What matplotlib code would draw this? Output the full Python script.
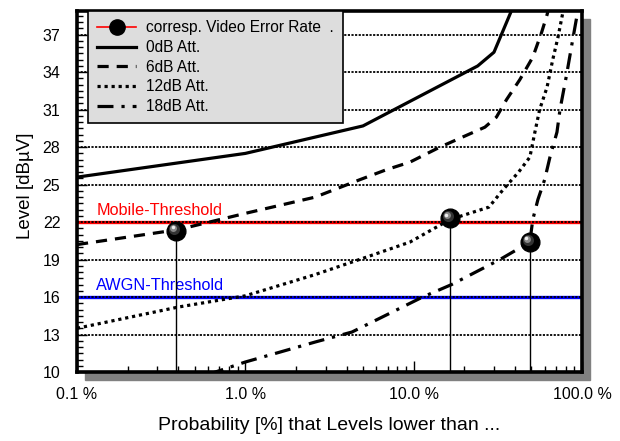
import matplotlib
matplotlib.use("Agg")
import matplotlib.pyplot as plt
import matplotlib.transforms as mtransforms
from matplotlib.lines import Line2D
from matplotlib.patches import Rectangle
from matplotlib.ticker import FixedLocator, LogLocator, MultipleLocator, NullFormatter

plt.rcParams["font.family"] = ["Liberation Sans", "DejaVu Sans"]

# ── Data (probability in %, level in dBuV) ────────────────────────────────────
att0_x = [0.1, 1.0, 5.0, 24, 30, 40]
att0_y = [25.6, 27.5, 29.7, 34.5, 35.6, 39.6]

att6_x = [0.1, 0.4, 1.0, 2.6, 4.8, 6.9, 9.5, 14.3, 26.5, 31, 35.6, 42.7, 51, 57.6, 62, 66]
att6_y = [20.2, 21.4, 22.7, 24.0, 25.4, 26.2, 26.8, 28.0, 29.6, 30.4, 31.8, 33.4, 35.2, 37.2, 38.6, 40.0]

att12_x = [0.1, 0.4, 1.0, 2.6, 5.25, 9.5, 16.4, 28, 34, 42, 49, 52.5, 56, 62, 67, 72, 77, 82]
att12_y = [13.5, 15.2, 16.1, 17.8, 19.2, 20.4, 22.2, 23.2, 24.6, 26.0, 27.2, 29.2, 31.0, 32.8, 35.0, 36.8, 38.8, 40.5]

att18_x = [0.6, 1.0, 2.6, 4.3, 11.3, 16.8, 32.5, 49, 51, 54.7, 60, 64.5, 71, 74, 81, 87, 93, 100]
att18_y = [9.8, 10.8, 12.4, 13.2, 16.0, 17.0, 19.0, 20.4, 22.2, 23.8, 25.4, 27.2, 29.2, 31.0, 33.8, 36.2, 38.4, 40.0]

marker_x = [0.39, 16.4, 49]
marker_y = [21.3, 22.3, 20.4]

mobile_threshold = 22
awgn_threshold = 16
y_ticks = [10, 13, 16, 19, 22, 25, 28, 31, 34, 37]
grid_levels = [13, 16, 19, 22, 25, 28, 31, 34, 37]
x_ticks = [0.1, 1, 10, 100]
x_ticklabels = ["0.1 %", "1.0 %", "10.0 %", "100.0 %"]

# ── Figure ────────────────────────────────────────────────────────────────────
W, H = 620, 441
fig = plt.figure(figsize=(W / 100, H / 100), dpi=100)
left, right, top, bottom = 77, 582, 11, 372
ax = fig.add_axes([left / W, 1 - bottom / H, (right - left) / W, (bottom - top) / H])

# gray drop shadow behind the plot area
off = 8
fig.patches.append(Rectangle(((left + off) / W, 1 - (bottom + off) / H),
                             (right - left) / W, (bottom - top) / H,
                             transform=fig.transFigure, color="#808080", zorder=-1))

ax.set_xscale("log")
ax.set_xlim(0.1, 100)
ax.set_ylim(10, 38.9)

# thresholds
ax.axhline(mobile_threshold, color="red", lw=2.4, zorder=2)
ax.axhline(awgn_threshold, color="blue", lw=2.4, zorder=2)
ax.text(0.1315, mobile_threshold + 0.3, "Mobile-Threshold", color="red", fontsize=11.7, va="bottom")
ax.text(0.13, awgn_threshold + 0.3, "AWGN-Threshold", color="blue", fontsize=11.7, va="bottom")

# dotted horizontal grid
for g in grid_levels:
    ax.axhline(g, color="black", lw=1.3, linestyle=(0, (1.2, 0.8)), zorder=2.5)

# curves
lw = 2.3
ax.plot(att0_x, att0_y, color="black", lw=lw, linestyle="-", zorder=3)
ax.plot(att6_x, att6_y, color="black", lw=lw, linestyle=(0, (3.5, 2.5)), zorder=3)
ax.plot(att12_x, att12_y, color="black", lw=lw, linestyle=(0, (1, 1.2)), zorder=3)
ax.plot(att18_x, att18_y, color="black", lw=lw, linestyle=(0, (5, 2.5, 1, 2.5)), zorder=3)

# stems and shaded spheres
ax.vlines(marker_x, 10, marker_y, color="black", lw=1, zorder=3.5)
ax.plot(marker_x, marker_y, "o", ms=13.5, mfc="black", mec="black", zorder=4)
for shift, size, col in [(1.5, 8, "#333333"), (2.3, 5, "#888888"), (2.7, 2.5, "#eeeeee")]:
    hl = mtransforms.offset_copy(ax.transData, fig=fig, x=-shift, y=shift, units="points")
    ax.plot(marker_x, marker_y, "o", ms=size, mfc=col, mec="none", transform=hl, zorder=4.5)

# ticks
ax.xaxis.set_major_locator(FixedLocator(x_ticks))
ax.set_xticklabels(x_ticklabels)
ax.xaxis.set_minor_locator(LogLocator(base=10, subs=range(2, 10)))
ax.xaxis.set_minor_formatter(NullFormatter())
ax.yaxis.set_major_locator(FixedLocator(y_ticks))
ax.yaxis.set_minor_locator(MultipleLocator(0.5))
ax.tick_params(which="both", direction="in", top=False, right=False, width=1, labelsize=11.5)
ax.tick_params(axis="x", which="major", length=8, pad=11)
ax.tick_params(axis="x", which="minor", length=4)
ax.tick_params(axis="y", which="major", length=7, pad=12)
ax.tick_params(axis="y", which="minor", length=4)
for s in ax.spines.values():
    s.set_linewidth(2.6)
    s.set_zorder(5)

fig.text(25 / W, 1 - 186 / H, "Level [dBµV]", rotation=90, ha="center", va="center", fontsize=13.5)
fig.text(329 / W, 1 - 425 / H, "Probability [%] that Levels lower than ...", ha="center", va="center", fontsize=14)

# legend
handles = [
    Line2D([], [], color="red", lw=1.2, marker="o", ms=11, mfc="black", mec="black"),
    Line2D([], [], color="black", lw=lw, linestyle="-"),
    Line2D([], [], color="black", lw=lw, linestyle=(0, (3.5, 2.5))),
    Line2D([], [], color="black", lw=lw, linestyle=(0, (1, 1.2))),
    Line2D([], [], color="black", lw=lw, linestyle=(0, (5, 2.5, 1, 2.5))),
]
labels = ["corresp. Video Error Rate  .", "0dB Att.", "6dB Att.", "12dB Att.", "18dB Att."]
leg = ax.legend(handles, labels, loc="upper left", bbox_to_anchor=(0.022, 1.0), borderaxespad=0,
                fontsize=11.2, fancybox=False, framealpha=1, facecolor="#dddddd", edgecolor="black",
                handlelength=2.5, handletextpad=0.6, labelspacing=0.3, borderpad=0.6)
leg.get_frame().set_linewidth(1.2)
leg.set_zorder(6)

fig.savefig("out.png", dpi=100)
